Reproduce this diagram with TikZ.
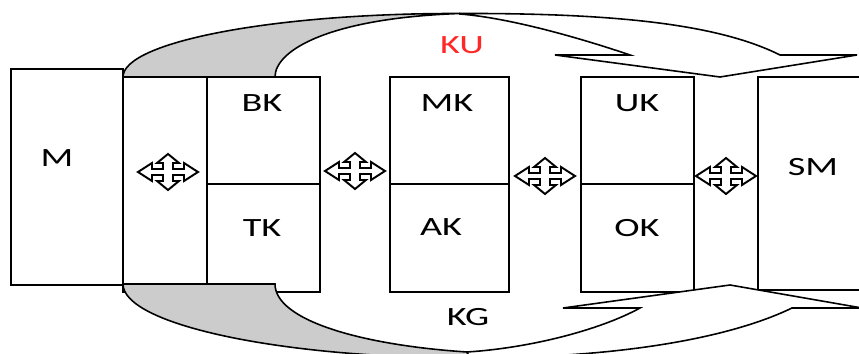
\documentclass[tikz,border=0pt]{standalone}
\usepackage{fontspec}
\setmainfont{Carlito}[FakeStretch=1.45]
\definecolor{kured}{RGB}{255,40,40}
\tikzset{
  moveicon/.pic={
    \draw[fill=white,line width=1.1pt,line join=miter]
      (30,0) -- (16,-9) -- (16,-3) -- (5,-3) -- (5,-9) -- (11,-9) -- (0,-18)
      -- (-11,-9) -- (-5,-9) -- (-5,-3) -- (-16,-3) -- (-16,-9) -- (-30,0)
      -- (-16,9) -- (-16,3) -- (-5,3) -- (-5,9) -- (-11,9) -- (0,18)
      -- (11,9) -- (5,9) -- (5,3) -- (16,3) -- (16,9) -- cycle;
  }
}
\begin{document}
\begin{tikzpicture}[x=0.02cm,y=-0.02cm,
    box/.style={draw,line width=1pt,inner sep=0pt,outer sep=0pt},
    bentarrow/.style={draw,line width=0.9pt,line join=miter},
    txt/.style={font=\fontsize{15}{17}\selectfont,inner sep=0pt}]
  \useasboundingbox (0,0) rectangle (859,354);
  \clip (0,0) rectangle (859,354);

  \node[box,minimum width=2.24cm,minimum height=4.32cm] (M)  at (67,   177) {};
  \node[box,minimum width=1.68cm,minimum height=4.30cm] (L)  at (165,  184.5) {};
  \node[box,minimum width=2.26cm,minimum height=2.14cm] (BK) at (263.5,130.5) {};
  \node[box,minimum width=2.26cm,minimum height=2.16cm] (TK) at (263.5,238) {};
  \node[box,minimum width=2.38cm,minimum height=2.14cm] (MK) at (449.5,130.5) {};
  \node[box,minimum width=2.38cm,minimum height=2.16cm] (AK) at (449.5,238) {};
  \node[box,minimum width=2.26cm,minimum height=2.14cm] (UK) at (637.5,130.5) {};
  \node[box,minimum width=2.26cm,minimum height=2.16cm] (OK) at (637.5,238) {};
  \node[box,minimum width=2.44cm,minimum height=4.26cm] (SM) at (819,  183.5) {};

  % upper bent arrow
  \draw[bentarrow,fill=black!20] (L.north west) .. controls (123,42) and (274,13) .. (460,13.5)
    .. controls (330,18) and (275,50) .. (275,77) -- cycle;
  \draw[bentarrow,fill=white] (460,13.5) .. controls (620,13) and (720,25) .. (780,55)
    -- (857,55) -- (720,77) -- (555,55) -- (630,55)
    .. controls (580,38) and (510,18) .. (460,14) -- cycle;

  % lower bent arrow
  \draw[bentarrow,fill=black!20] (123,284) .. controls (123,324) and (278,358) .. (470,358)
    -- (467,352) .. controls (360,345) and (275,320) .. (275,284) -- cycle;
  \draw[bentarrow,fill=white] (470,358) .. controls (620,358) and (730,338) .. (792,308)
    -- (862,308) -- (730,285) -- (563,308) -- (640,308)
    .. controls (600,330) and (530,348) .. (467,352) -- cycle;

  \pic at (168,172) {moveicon};
  \pic at (355,171) {moveicon};
  \pic at (545,176) {moveicon};
  \pic at (726,176) {moveicon};

  \node[txt] (tM)  at (57,  158) {M};
  \node[txt] (tBK) at (262, 103) {BK};
  \node[txt] (tTK) at (262, 228) {TK};
  \node[txt] (tMK) at (447, 103) {MK};
  \node[txt] (tAK) at (441, 227) {AK};
  \node[txt] (tUK) at (637, 103) {UK};
  \node[txt] (tOK) at (637, 228) {OK};
  \node[txt] (tSM) at (813, 167) {SM};
  \node[txt,text=kured] (tKU) at (462, 45) {KU};
  \node[txt] (tKG) at (468, 317) {KG};
\end{tikzpicture}
\end{document}
